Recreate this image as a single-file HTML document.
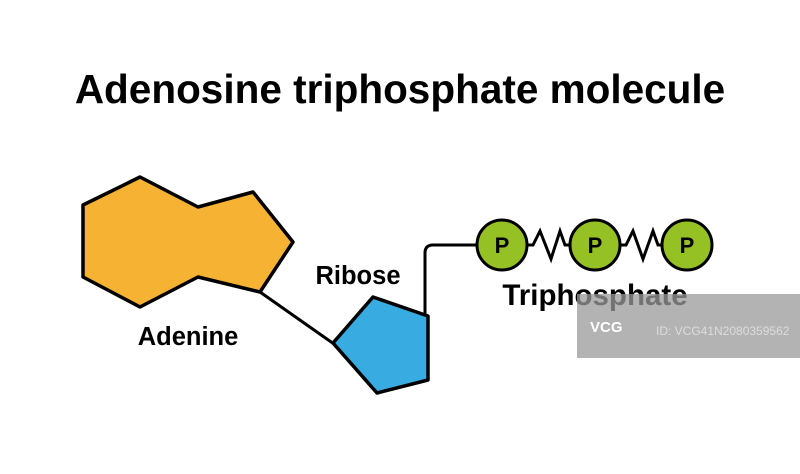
<!DOCTYPE html>
<html><head><style>
body{margin:0;background:#fff;width:800px;height:469px;overflow:hidden;}
</style></head><body>
<svg width="800" height="469" viewBox="0 0 800 469" xmlns="http://www.w3.org/2000/svg" font-family="Liberation Sans, sans-serif" font-weight="bold">
<text x="400" y="103" text-anchor="middle" font-size="40.5">Adenosine triphosphate molecule</text>
<line x1="260" y1="292" x2="334" y2="344" stroke="#000" stroke-width="3"/>
<path d="M425 316 V253 Q425 245 433 245 H478" fill="none" stroke="#000" stroke-width="3"/>
<path d="M140 177 L198 207 L253 192 L293 242 L260 292 L198 277 L140 307 L83 277 L83 205 Z" fill="#f5b233" stroke="#000" stroke-width="3.5" stroke-linejoin="round"/>
<path d="M373 297 L428 316 L428 380 L377 393 L333 343 Z" fill="#38abe1" stroke="#000" stroke-width="3.5" stroke-linejoin="round"/>
<path d="M527 245 H533 L540 231 L551 259 L560 231 L565 245 H570" fill="none" stroke="#000" stroke-width="3"/>
<path d="M620 245 H626 L633 231 L643 259 L653 231 L658 245 H662" fill="none" stroke="#000" stroke-width="3"/>
<g fill="#96c124" stroke="#000" stroke-width="3">
<circle cx="502" cy="245" r="25"/><circle cx="595" cy="245" r="25"/><circle cx="687" cy="245" r="25"/>
</g>
<g font-size="22" text-anchor="middle"><text x="502" y="253">P</text><text x="595" y="253">P</text><text x="687" y="253">P</text></g>
<text x="188" y="345" text-anchor="middle" font-size="25.5">Adenine</text>
<text x="358" y="284" text-anchor="middle" font-size="25.5">Ribose</text>
<text x="595" y="305" text-anchor="middle" font-size="29.5">Triphosphate</text>
<rect x="577" y="294" width="223" height="64" fill="#9a9a9a" opacity="0.75"/>
<text x="590" y="332" font-size="15" fill="#fff">VCG</text>
<text x="656" y="335" font-size="12" font-weight="normal" fill="#ddd">ID: VCG41N2080359562</text>
</svg>
</body></html>
